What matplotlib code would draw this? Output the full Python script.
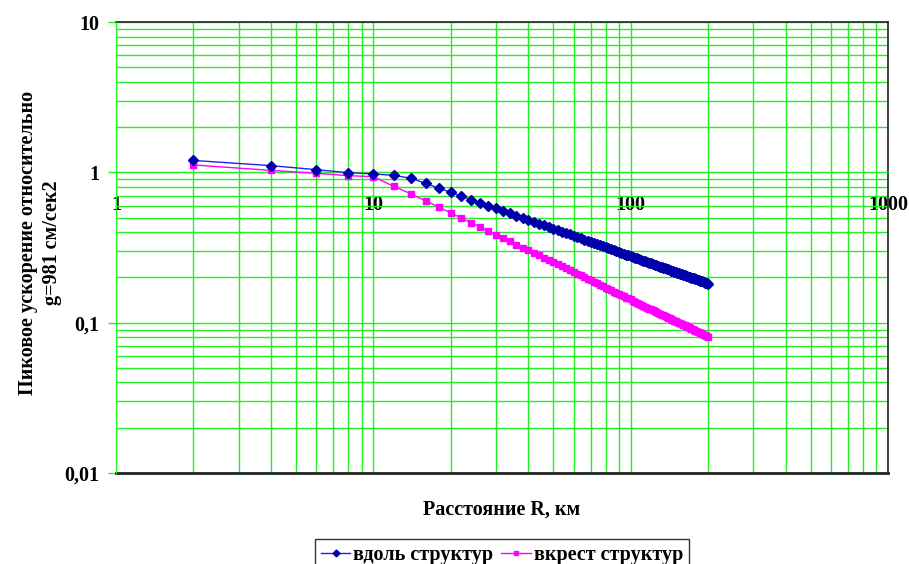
import numpy as np
import matplotlib
matplotlib.use("Agg")
import matplotlib.pyplot as plt
from matplotlib.ticker import LogLocator, NullFormatter

# шрифт как в Excel (Times New Roman -> Liberation Serif)
plt.rcParams['font.family'] = ['Liberation Serif', 'DejaVu Serif']
plt.rcParams['font.weight'] = 'bold'

# расстояния, км
dist = np.arange(2, 202, 2)

# вдоль структур
along = [1.20, 1.108, 1.042, 0.994, 0.976, 0.955, 0.914, 0.843, 0.785, 0.736,
         0.695, 0.659, 0.628, 0.600, 0.575, 0.553, 0.533, 0.515, 0.498, 0.483,
         0.469, 0.456, 0.444, 0.433, 0.422, 0.412, 0.403, 0.394, 0.386, 0.378,
         0.370, 0.363, 0.357, 0.350, 0.344, 0.338, 0.333, 0.327, 0.322, 0.317,
         0.313, 0.308, 0.304, 0.300, 0.295, 0.291, 0.288, 0.284, 0.280, 0.277,
         0.274, 0.271, 0.268, 0.264, 0.262, 0.259, 0.256, 0.253, 0.251, 0.248,
         0.246, 0.243, 0.241, 0.238, 0.236, 0.234, 0.232, 0.230, 0.228, 0.226,
         0.224, 0.222, 0.220, 0.218, 0.217, 0.215, 0.213, 0.212, 0.210, 0.208,
         0.207, 0.205, 0.204, 0.202, 0.201, 0.199, 0.198, 0.197, 0.195, 0.194,
         0.193, 0.191, 0.190, 0.189, 0.188, 0.187, 0.185, 0.184, 0.183, 0.182]

# вкрест структур
across = [1.12, 1.03, 0.985, 0.95, 0.936, 0.807, 0.720, 0.645, 0.586, 0.537,
          0.496, 0.462, 0.433, 0.407, 0.384, 0.365, 0.347, 0.331, 0.316, 0.303,
          0.291, 0.280, 0.270, 0.261, 0.252, 0.244, 0.237, 0.230, 0.223, 0.217,
          0.211, 0.206, 0.201, 0.196, 0.191, 0.187, 0.183, 0.179, 0.175, 0.171,
          0.168, 0.165, 0.161, 0.158, 0.155, 0.153, 0.150, 0.147, 0.145, 0.143,
          0.140, 0.138, 0.136, 0.134, 0.132, 0.130, 0.128, 0.126, 0.124, 0.123,
          0.121, 0.119, 0.118, 0.116, 0.115, 0.113, 0.112, 0.111, 0.109, 0.108,
          0.107, 0.106, 0.104, 0.103, 0.102, 0.101, 0.0999, 0.0988, 0.0978, 0.0968,
          0.0958, 0.0948, 0.0939, 0.0930, 0.0921, 0.0912, 0.0903, 0.0894, 0.0886, 0.0878,
          0.0871, 0.0863, 0.0855, 0.0848, 0.0840, 0.0833, 0.0826, 0.0819, 0.0812, 0.0805]

xticks = [1, 10, 100, 1000]
xtick_labels = ['1', '10', '100', '1000']
yticks = [0.01, 0.1, 1, 10]
ytick_labels = ['0,01', '0,1', '1', '10']

grid_col = '#22f022'
fs = 14.5

fig = plt.figure(figsize=(9.09, 5.64), dpi=100)
ax = fig.add_axes([116 / 909, 1 - 473 / 564, 772 / 909, 451 / 564])

ax.plot(dist, along, color='#2222ee', lw=1.0, marker='D', ms=5,
        mfc='#0000aa', mec='#0000aa', label='вдоль структур', zorder=5)
ax.plot(dist, across, color='#ff00ff', lw=1.0, marker='s', ms=4,
        mfc='#ff00ff', mec='#ff00ff', label='вкрест структур', zorder=4)

ax.set_xscale('log')
ax.set_yscale('log')
ax.set_xlim(1, 1000)
ax.set_ylim(0.01, 10)

ax.xaxis.set_minor_locator(LogLocator(base=10, subs=np.arange(2, 10)))
ax.yaxis.set_minor_locator(LogLocator(base=10, subs=np.arange(2, 10)))
ax.xaxis.set_minor_formatter(NullFormatter())
ax.yaxis.set_minor_formatter(NullFormatter())
ax.set_xticks(xticks, xtick_labels)
ax.set_yticks(yticks, ytick_labels)

ax.grid(True, which='both', color=grid_col, lw=1.0)
ax.set_axisbelow(True)

# ось X пересекает ось Y в точке 1
ax.spines['bottom'].set_position(('data', 1))
ax.spines['bottom'].set_color(grid_col)
ax.spines['left'].set_color(grid_col)
ax.spines['left'].set_zorder(3)
for s in ['top', 'right']:
    ax.spines[s].set_color('#222222')
    ax.spines[s].set_linewidth(1.2)
ax.axhline(0.01, color='#222222', lw=2.0, clip_on=False, zorder=2)

ax.tick_params(axis='x', which='both', length=0, pad=16, labelsize=fs)
ax.tick_params(axis='y', which='major', length=6, width=1, color=grid_col,
               pad=6, labelsize=fs)
ax.tick_params(axis='y', which='minor', length=0)

ax.set_xlabel('Расстояние R, км', fontsize=fs, fontweight='bold', va='center')
ax.xaxis.set_label_coords(0.5, -0.082)
ax.set_ylabel('Пиковое ускорение относительно\ng=981 см/сек2', fontsize=fs,
              fontweight='bold', va='center', ha='center', linespacing=1.25)
ax.yaxis.set_label_coords(-0.098, 0.51)

leg = fig.legend(loc='upper center', bbox_to_anchor=(502 / 909, 1 - 539 / 564),
                 borderaxespad=0, ncol=2, frameon=True, fancybox=False,
                 edgecolor='black', prop={'size': fs, 'weight': 'bold'},
                 handlelength=1.45, columnspacing=0.4, handletextpad=0.15,
                 borderpad=0.3, markerscale=0.7)
leg.get_frame().set_linewidth(1.0)

fig.savefig('out.png', dpi=100)
